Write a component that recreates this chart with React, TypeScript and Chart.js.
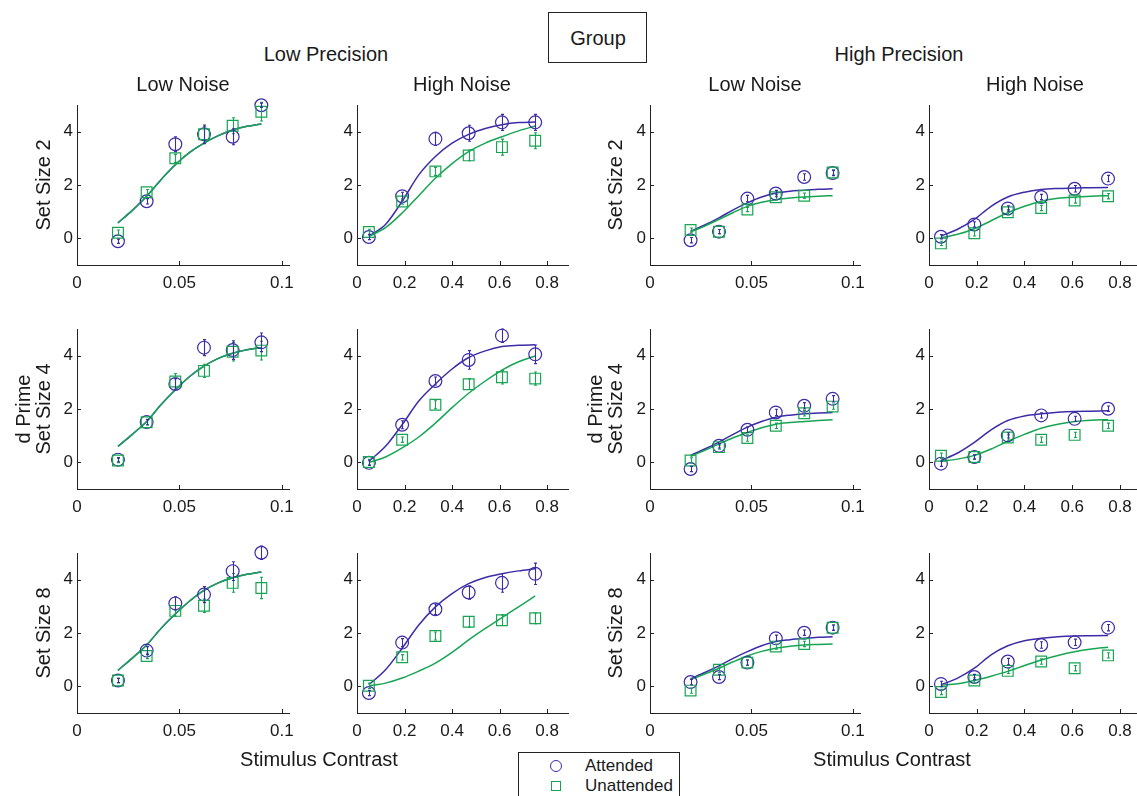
import React, { useEffect, useRef } from 'react';
import { Chart, registerables } from 'chart.js';

Chart.register(...registerables);

// ---------- shared axes ----------
const lowNoiseContrast = [0.02, 0.034, 0.048, 0.062, 0.076, 0.09];
const highNoiseContrast = [0.05, 0.19, 0.33, 0.47, 0.61, 0.75];
const lowNoiseFitContrast = [0.02, 0.027, 0.034, 0.041, 0.048, 0.055, 0.062, 0.069, 0.076, 0.083, 0.09];
const highNoiseFitContrast = [0.05, 0.12, 0.19, 0.26, 0.33, 0.4, 0.47, 0.54, 0.61, 0.68, 0.75];
const lowNoiseTicks = [0, 0.05, 0.1];
const lowNoiseTickLabels = ['0', '0.05', '0.1'];
const highNoiseTicks = [0, 0.2, 0.4, 0.6, 0.8];
const highNoiseTickLabels = ['0', '0.2', '0.4', '0.6', '0.8'];
const dPrimeTicks = [0, 2, 4];
const dPrimeTickLabels = ['0', '2', '4'];

// ---------- Low Precision, Low Noise ----------
const lpLnSs2Att = [-0.11, 1.39, 3.53, 3.9, 3.81, 4.99];
const lpLnSs2AttErr = [0.08, 0.1, 0.28, 0.35, 0.3, 0.08];
const lpLnSs2Unatt = [0.21, 1.73, 3.0, 3.9, 4.22, 4.75];
const lpLnSs2UnattErr = [0.1, 0.1, 0.15, 0.3, 0.3, 0.35];
const lpLnSs2AttFit = [0.58, 1.05, 1.58, 2.2, 2.76, 3.22, 3.57, 3.85, 4.06, 4.2, 4.29];
const lpLnSs2UnattFit = [0.58, 1.05, 1.58, 2.2, 2.76, 3.22, 3.57, 3.85, 4.06, 4.2, 4.29];

const lpLnSs4Att = [0.1, 1.51, 2.94, 4.3, 4.21, 4.5];
const lpLnSs4AttErr = [0.08, 0.1, 0.2, 0.3, 0.35, 0.35];
const lpLnSs4Unatt = [0.07, 1.5, 3.03, 3.43, 4.15, 4.19];
const lpLnSs4UnattErr = [0.08, 0.1, 0.3, 0.25, 0.35, 0.35];
const lpLnSs4AttFit = [0.6, 1.05, 1.53, 2.16, 2.72, 3.22, 3.61, 3.9, 4.09, 4.22, 4.3];
const lpLnSs4UnattFit = [0.6, 1.05, 1.53, 2.16, 2.72, 3.22, 3.61, 3.9, 4.09, 4.22, 4.3];

const lpLnSs8Att = [0.22, 1.34, 3.11, 3.44, 4.32, 5.01];
const lpLnSs8AttErr = [0.08, 0.15, 0.25, 0.3, 0.35, 0.25];
const lpLnSs8Unatt = [0.22, 1.14, 2.83, 3.02, 3.88, 3.69];
const lpLnSs8UnattErr = [0.08, 0.1, 0.2, 0.25, 0.35, 0.4];
const lpLnSs8AttFit = [0.6, 1.06, 1.55, 2.17, 2.71, 3.2, 3.6, 3.88, 4.07, 4.2, 4.29];
const lpLnSs8UnattFit = [0.6, 1.06, 1.55, 2.17, 2.71, 3.2, 3.6, 3.88, 4.07, 4.2, 4.29];

// ---------- Low Precision, High Noise ----------
const lpHnSs2Att = [0.05, 1.58, 3.73, 3.94, 4.35, 4.35];
const lpHnSs2AttErr = [0.1, 0.15, 0.25, 0.3, 0.3, 0.3];
const lpHnSs2Unatt = [0.24, 1.38, 2.51, 3.11, 3.42, 3.66];
const lpHnSs2UnattErr = [0.1, 0.1, 0.15, 0.2, 0.3, 0.3];
const lpHnSs2AttFit = [0.09, 0.52, 1.39, 2.38, 3.07, 3.57, 3.9, 4.12, 4.26, 4.34, 4.36];
const lpHnSs2UnattFit = [0.07, 0.4, 0.95, 1.6, 2.25, 2.8, 3.25, 3.57, 3.81, 4.03, 4.21];

const lpHnSs4Att = [-0.02, 1.41, 3.05, 3.84, 4.75, 4.05];
const lpHnSs4AttErr = [0.1, 0.15, 0.15, 0.35, 0.25, 0.35];
const lpHnSs4Unatt = [0.01, 0.85, 2.16, 2.93, 3.19, 3.14];
const lpHnSs4UnattErr = [0.1, 0.1, 0.15, 0.2, 0.25, 0.25];
const lpHnSs4AttFit = [0.04, 0.6, 1.41, 2.3, 2.94, 3.5, 3.93, 4.18, 4.34, 4.39, 4.41];
const lpHnSs4UnattFit = [0.0, 0.2, 0.54, 0.95, 1.47, 2.05, 2.59, 3.05, 3.46, 3.77, 3.99];

const lpHnSs8Att = [-0.25, 1.64, 2.89, 3.52, 3.88, 4.22];
const lpHnSs8AttErr = [0.1, 0.15, 0.2, 0.25, 0.35, 0.4];
const lpHnSs8Unatt = [0.02, 1.09, 1.89, 2.42, 2.48, 2.55];
const lpHnSs8UnattErr = [0.1, 0.1, 0.15, 0.2, 0.2, 0.2];
const lpHnSs8AttFit = [0.06, 0.62, 1.43, 2.3, 2.98, 3.48, 3.85, 4.08, 4.22, 4.33, 4.41];
const lpHnSs8UnattFit = [0.02, 0.12, 0.31, 0.57, 0.87, 1.27, 1.74, 2.17, 2.58, 2.98, 3.39];

// ---------- High Precision, Low Noise ----------
const hpLnSs2Att = [-0.07, 0.25, 1.49, 1.68, 2.3, 2.45];
const hpLnSs2AttErr = [0.1, 0.08, 0.12, 0.12, 0.12, 0.1];
const hpLnSs2Unatt = [0.31, 0.25, 1.08, 1.54, 1.6, 2.47];
const hpLnSs2UnattErr = [0.08, 0.08, 0.08, 0.1, 0.1, 0.1];
const hpLnSs2AttFit = [0.27, 0.5, 0.77, 1.07, 1.33, 1.55, 1.7, 1.77, 1.8, 1.84, 1.86];
const hpLnSs2UnattFit = [0.24, 0.46, 0.71, 0.97, 1.2, 1.35, 1.45, 1.51, 1.55, 1.58, 1.6];

const hpLnSs4Att = [-0.25, 0.62, 1.22, 1.87, 2.12, 2.38];
const hpLnSs4AttErr = [0.1, 0.08, 0.1, 0.12, 0.12, 0.12];
const hpLnSs4Unatt = [0.07, 0.57, 0.91, 1.37, 1.84, 2.09];
const hpLnSs4UnattErr = [0.1, 0.08, 0.12, 0.1, 0.1, 0.1];
const hpLnSs4AttFit = [0.26, 0.5, 0.76, 1.05, 1.32, 1.53, 1.69, 1.77, 1.82, 1.85, 1.87];
const hpLnSs4UnattFit = [0.22, 0.45, 0.69, 0.92, 1.12, 1.3, 1.43, 1.49, 1.53, 1.57, 1.6];

const hpLnSs8Att = [0.16, 0.35, 0.89, 1.8, 2.01, 2.2];
const hpLnSs8AttErr = [0.1, 0.1, 0.1, 0.12, 0.1, 0.1];
const hpLnSs8Unatt = [-0.16, 0.62, 0.89, 1.49, 1.59, 2.2];
const hpLnSs8UnattErr = [0.1, 0.1, 0.1, 0.1, 0.1, 0.1];
const hpLnSs8AttFit = [0.29, 0.52, 0.77, 1.05, 1.3, 1.52, 1.68, 1.75, 1.8, 1.84, 1.86];
const hpLnSs8UnattFit = [0.25, 0.46, 0.68, 0.92, 1.14, 1.31, 1.43, 1.5, 1.55, 1.57, 1.59];

// ---------- High Precision, High Noise ----------
const hpHnSs2Att = [0.06, 0.52, 1.12, 1.55, 1.86, 2.24];
const hpHnSs2AttErr = [0.08, 0.1, 0.1, 0.1, 0.12, 0.12];
const hpHnSs2Unatt = [-0.19, 0.19, 0.98, 1.14, 1.42, 1.58];
const hpHnSs2UnattErr = [0.08, 0.1, 0.1, 0.1, 0.1, 0.1];
const hpHnSs2AttFit = [0.09, 0.34, 0.71, 1.2, 1.55, 1.73, 1.83, 1.87, 1.89, 1.9, 1.91];
const hpHnSs2UnattFit = [0.02, 0.15, 0.36, 0.66, 0.96, 1.2, 1.39, 1.5, 1.55, 1.58, 1.6];

const hpHnSs4Att = [-0.05, 0.2, 1.01, 1.76, 1.63, 2.01];
const hpHnSs4AttErr = [0.1, 0.08, 0.1, 0.1, 0.1, 0.1];
const hpHnSs4Unatt = [0.25, 0.2, 0.93, 0.85, 1.03, 1.37];
const hpHnSs4UnattErr = [0.1, 0.08, 0.1, 0.1, 0.1, 0.1];
const hpHnSs4AttFit = [0.07, 0.35, 0.75, 1.22, 1.57, 1.74, 1.82, 1.88, 1.91, 1.92, 1.93];
const hpHnSs4UnattFit = [0.04, 0.12, 0.26, 0.5, 0.79, 1.05, 1.28, 1.43, 1.53, 1.58, 1.6];

const hpHnSs8Att = [0.09, 0.35, 0.93, 1.55, 1.65, 2.2];
const hpHnSs8AttErr = [0.1, 0.1, 0.12, 0.12, 0.12, 0.12];
const hpHnSs8Unatt = [-0.21, 0.22, 0.58, 0.93, 0.68, 1.16];
const hpHnSs8UnattErr = [0.1, 0.1, 0.1, 0.1, 0.1, 0.1];
const hpHnSs8AttFit = [0.06, 0.31, 0.68, 1.18, 1.52, 1.71, 1.8, 1.86, 1.89, 1.9, 1.91];
const hpHnSs8UnattFit = [0.04, 0.1, 0.22, 0.38, 0.56, 0.78, 0.99, 1.16, 1.3, 1.4, 1.47];

// ---------- styling / layout ----------
const ATT_COLOR = '#3b2ca8';
const UNATT_COLOR = '#17a553';
const AXIS_COLOR = '#222222';
const TEXT_COLOR = '#1a1a1a';
const FONT = '"Liberation Sans", Arial, Helvetica, sans-serif';

const COL_LEFT = [77, 357, 650, 929];
const COL_WIDTH = [212, 211, 210, 212];
const ROW_TOP = [105, 329, 553];
const PLOT_H = 160;
const PAD_L = 46;
const PAD_T = 16;
const PAD_R = 24;
const PAD_B = 36;

type PanelDef = {
  row: number;
  col: number;
  noise: 'low' | 'high';
  att: number[];
  attErr: number[];
  unatt: number[];
  unattErr: number[];
  attFit: number[];
  unattFit: number[];
};

const panels: PanelDef[] = [
  { row: 0, col: 0, noise: 'low', att: lpLnSs2Att, attErr: lpLnSs2AttErr, unatt: lpLnSs2Unatt, unattErr: lpLnSs2UnattErr, attFit: lpLnSs2AttFit, unattFit: lpLnSs2UnattFit },
  { row: 0, col: 1, noise: 'high', att: lpHnSs2Att, attErr: lpHnSs2AttErr, unatt: lpHnSs2Unatt, unattErr: lpHnSs2UnattErr, attFit: lpHnSs2AttFit, unattFit: lpHnSs2UnattFit },
  { row: 0, col: 2, noise: 'low', att: hpLnSs2Att, attErr: hpLnSs2AttErr, unatt: hpLnSs2Unatt, unattErr: hpLnSs2UnattErr, attFit: hpLnSs2AttFit, unattFit: hpLnSs2UnattFit },
  { row: 0, col: 3, noise: 'high', att: hpHnSs2Att, attErr: hpHnSs2AttErr, unatt: hpHnSs2Unatt, unattErr: hpHnSs2UnattErr, attFit: hpHnSs2AttFit, unattFit: hpHnSs2UnattFit },
  { row: 1, col: 0, noise: 'low', att: lpLnSs4Att, attErr: lpLnSs4AttErr, unatt: lpLnSs4Unatt, unattErr: lpLnSs4UnattErr, attFit: lpLnSs4AttFit, unattFit: lpLnSs4UnattFit },
  { row: 1, col: 1, noise: 'high', att: lpHnSs4Att, attErr: lpHnSs4AttErr, unatt: lpHnSs4Unatt, unattErr: lpHnSs4UnattErr, attFit: lpHnSs4AttFit, unattFit: lpHnSs4UnattFit },
  { row: 1, col: 2, noise: 'low', att: hpLnSs4Att, attErr: hpLnSs4AttErr, unatt: hpLnSs4Unatt, unattErr: hpLnSs4UnattErr, attFit: hpLnSs4AttFit, unattFit: hpLnSs4UnattFit },
  { row: 1, col: 3, noise: 'high', att: hpHnSs4Att, attErr: hpHnSs4AttErr, unatt: hpHnSs4Unatt, unattErr: hpHnSs4UnattErr, attFit: hpHnSs4AttFit, unattFit: hpHnSs4UnattFit },
  { row: 2, col: 0, noise: 'low', att: lpLnSs8Att, attErr: lpLnSs8AttErr, unatt: lpLnSs8Unatt, unattErr: lpLnSs8UnattErr, attFit: lpLnSs8AttFit, unattFit: lpLnSs8UnattFit },
  { row: 2, col: 1, noise: 'high', att: lpHnSs8Att, attErr: lpHnSs8AttErr, unatt: lpHnSs8Unatt, unattErr: lpHnSs8UnattErr, attFit: lpHnSs8AttFit, unattFit: lpHnSs8UnattFit },
  { row: 2, col: 2, noise: 'low', att: hpLnSs8Att, attErr: hpLnSs8AttErr, unatt: hpLnSs8Unatt, unattErr: hpLnSs8UnattErr, attFit: hpLnSs8AttFit, unattFit: hpLnSs8UnattFit },
  { row: 2, col: 3, noise: 'high', att: hpHnSs8Att, attErr: hpHnSs8AttErr, unatt: hpHnSs8Unatt, unattErr: hpHnSs8UnattErr, attFit: hpHnSs8AttFit, unattFit: hpHnSs8UnattFit },
];

const toPts = (xs: number[], ys: number[]) => xs.map((x, i) => ({ x, y: ys[i] }));

const inwardTicks = {
  id: 'inwardTicks',
  afterDraw(chart: any) {
    const { ctx, chartArea } = chart;
    const xs = chart.scales.x;
    const ys = chart.scales.y;
    ctx.save();
    ctx.strokeStyle = AXIS_COLOR;
    ctx.lineWidth = 1;
    ctx.beginPath();
    xs.ticks.forEach((t: any) => {
      const px = Math.round(xs.getPixelForValue(t.value)) + 0.5;
      ctx.moveTo(px, chartArea.bottom);
      ctx.lineTo(px, chartArea.bottom - 4);
    });
    ys.ticks.forEach((t: any) => {
      const py = Math.round(ys.getPixelForValue(t.value)) + 0.5;
      ctx.moveTo(chartArea.left, py);
      ctx.lineTo(chartArea.left + 4, py);
    });
    ctx.stroke();
    ctx.restore();
  },
};

const errorBars = {
  id: 'errorBars',
  afterDatasetsDraw(chart: any) {
    const { ctx } = chart;
    const ys = chart.scales.y;
    chart.data.datasets.forEach((ds: any, i: number) => {
      if (!ds.errorBars) return;
      const meta = chart.getDatasetMeta(i);
      ctx.save();
      ctx.strokeStyle = ds.borderColor;
      ctx.lineWidth = 1.1;
      meta.data.forEach((el: any, j: number) => {
        const v = ds.data[j].y;
        const e = ds.errorBars[j];
        const top = ys.getPixelForValue(v + e);
        const bot = ys.getPixelForValue(v - e);
        const x = Math.round(el.x) + 0.5;
        ctx.beginPath();
        ctx.moveTo(x, top);
        ctx.lineTo(x, bot);
        ctx.moveTo(x - 1.5, top);
        ctx.lineTo(x + 1.5, top);
        ctx.moveTo(x - 1.5, bot);
        ctx.lineTo(x + 1.5, bot);
        ctx.stroke();
      });
      ctx.restore();
    });
  },
};

function Panel({ def }: { def: PanelDef }) {
  const ref = useRef<HTMLCanvasElement | null>(null);
  const w = COL_WIDTH[def.col];
  const cw = PAD_L + w + PAD_R;
  const ch = PAD_T + PLOT_H + PAD_B;
  const left = COL_LEFT[def.col] - PAD_L;
  const top = ROW_TOP[def.row] - PAD_T;

  useEffect(() => {
    if (!ref.current) return;
    const low = def.noise === 'low';
    const xs = low ? lowNoiseContrast : highNoiseContrast;
    const fx = low ? lowNoiseFitContrast : highNoiseFitContrast;
    const xTicks = low ? lowNoiseTicks : highNoiseTicks;
    const xLabels = low ? lowNoiseTickLabels : highNoiseTickLabels;
    const xMax = low ? 0.1035 : 0.888;

    const chart = new Chart(ref.current, {
      type: 'scatter',
      data: {
        datasets: [
          {
            label: 'Unattended',
            data: toPts(xs, def.unatt),
            pointStyle: 'rect',
            pointRadius: 7.6,
            pointBorderWidth: 1.2,
            borderColor: UNATT_COLOR,
            backgroundColor: 'rgba(0,0,0,0)',
            clip: false,
            errorBars: def.unattErr,
          } as any,
          {
            label: 'Attended',
            data: toPts(xs, def.att),
            pointStyle: 'circle',
            pointRadius: 6.4,
            pointBorderWidth: 1.2,
            borderColor: ATT_COLOR,
            backgroundColor: 'rgba(0,0,0,0)',
            clip: false,
            errorBars: def.attErr,
          } as any,
          {
            label: 'Unattended fit',
            data: toPts(fx, def.unattFit),
            showLine: true,
            pointRadius: 0,
            borderColor: UNATT_COLOR,
            borderWidth: 1.5,
            cubicInterpolationMode: 'monotone',
            clip: false,
          } as any,
          {
            label: 'Attended fit',
            data: toPts(fx, def.attFit),
            showLine: true,
            pointRadius: 0,
            borderColor: ATT_COLOR,
            borderWidth: 1.5,
            cubicInterpolationMode: 'monotone',
            clip: false,
          } as any,
        ],
      },
      options: {
        animation: false,
        responsive: false,
        devicePixelRatio: 1,
        events: [],
        layout: { padding: { left: 0, top: PAD_T, right: PAD_R, bottom: 0 } },
        plugins: { legend: { display: false }, tooltip: { enabled: false }, title: { display: false } },
        scales: {
          x: {
            type: 'linear',
            min: 0,
            max: xMax,
            afterBuildTicks: (s: any) => {
              s.ticks = xTicks.map((v) => ({ value: v }));
            },
            afterFit: (s: any) => {
              s.height = PAD_B;
            },
            ticks: {
              callback: (_v: any, i: number) => xLabels[i],
              padding: 8,
              maxRotation: 0,
              autoSkip: false,
              color: TEXT_COLOR,
              font: { family: FONT, size: 17 },
            },
            grid: { display: false, drawTicks: false },
            border: { display: true, color: AXIS_COLOR, width: 1 },
          },
          y: {
            type: 'linear',
            min: -1,
            max: 5,
            afterBuildTicks: (s: any) => {
              s.ticks = dPrimeTicks.map((v) => ({ value: v }));
            },
            afterFit: (s: any) => {
              s.width = PAD_L;
            },
            ticks: {
              callback: (_v: any, i: number) => dPrimeTickLabels[i],
              padding: 4,
              color: TEXT_COLOR,
              font: { family: FONT, size: 17 },
            },
            grid: { display: false, drawTicks: false },
            border: { display: true, color: AXIS_COLOR, width: 1 },
          },
        },
      } as any,
      plugins: [inwardTicks, errorBars],
    });
    return () => chart.destroy();
  }, []);

  return (
    <canvas
      ref={ref}
      width={cw}
      height={ch}
      style={{ position: 'absolute', left, top, width: cw, height: ch }}
    />
  );
}

function Label({ x, y, text, size = 20, rotate = false }: { x: number; y: number; text: string; size?: number; rotate?: boolean }) {
  return (
    <div
      style={{
        position: 'absolute',
        left: x,
        top: y,
        transform: `translate(-50%, -50%)${rotate ? ' rotate(-90deg)' : ''}`,
        whiteSpace: 'nowrap',
        fontFamily: FONT,
        fontSize: size,
        color: TEXT_COLOR,
        lineHeight: 1,
      }}
    >
      {text}
    </div>
  );
}

export default function App() {
  useEffect(() => {
    document.body.style.margin = '0';
  }, []);
  const rowMid = ROW_TOP.map((t) => t + PLOT_H / 2);
  return (
    <div
      style={{
        position: 'absolute',
        left: 0,
        top: 0,
        width: 1137,
        height: 796,
        overflow: 'hidden',
        background: '#ffffff',
      }}
    >
      {panels.map((p, i) => (
        <Panel key={i} def={p} />
      ))}

      {/* group box */}
      <div
        style={{
          position: 'absolute',
          left: 548,
          top: 12,
          width: 99,
          height: 51,
          border: '1px solid #222',
          boxSizing: 'border-box',
        }}
      />
      <Label x={598} y={38} text="Group" />

      <Label x={326} y={54} text="Low Precision" />
      <Label x={899} y={54} text="High Precision" />
      <Label x={183} y={84} text="Low Noise" />
      <Label x={462} y={84} text="High Noise" />
      <Label x={755} y={84} text="Low Noise" />
      <Label x={1035} y={84} text="High Noise" />

      <Label x={43} y={rowMid[0]} text="Set Size 2" rotate />
      <Label x={23} y={rowMid[1]} text="d Prime" rotate />
      <Label x={43} y={rowMid[1]} text="Set Size 4" rotate />
      <Label x={43} y={rowMid[2]} text="Set Size 8" rotate />

      <Label x={615} y={rowMid[0]} text="Set Size 2" rotate />
      <Label x={595} y={rowMid[1]} text="d Prime" rotate />
      <Label x={615} y={rowMid[1]} text="Set Size 4" rotate />
      <Label x={615} y={rowMid[2]} text="Set Size 8" rotate />

      <Label x={319} y={759} text="Stimulus Contrast" />
      <Label x={892} y={759} text="Stimulus Contrast" />

      {/* legend */}
      <div
        style={{
          position: 'absolute',
          left: 518,
          top: 752,
          width: 162,
          height: 60,
          border: '1px solid #222',
          boxSizing: 'border-box',
          background: '#fff',
        }}
      />
      <div
        style={{
          position: 'absolute',
          left: 550,
          top: 760,
          width: 12,
          height: 12,
          borderRadius: '50%',
          border: `1.2px solid ${ATT_COLOR}`,
          boxSizing: 'border-box',
        }}
      />
      <div
        style={{
          position: 'absolute',
          left: 551,
          top: 781,
          width: 10,
          height: 10,
          border: `1.2px solid ${UNATT_COLOR}`,
          boxSizing: 'border-box',
        }}
      />
      <div style={{ position: 'absolute', left: 585, top: 757, fontFamily: FONT, fontSize: 17, color: TEXT_COLOR, lineHeight: '18px', whiteSpace: 'nowrap' }}>
        Attended
      </div>
      <div style={{ position: 'absolute', left: 585, top: 777, fontFamily: FONT, fontSize: 17, color: TEXT_COLOR, lineHeight: '18px', whiteSpace: 'nowrap' }}>
        Unattended
      </div>
    </div>
  );
}
